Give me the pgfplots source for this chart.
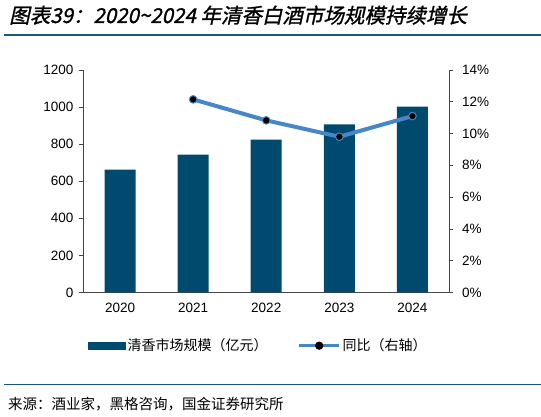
\documentclass[border=0pt]{standalone}
\usepackage{pgfplots}
\pgfplotsset{compat=1.18}
\usepackage{fontspec}
\setmainfont{Liberation Sans}
\newfontfamily\cjk{Noto Sans CJK SC}
\newfontfamily\cjktitle[FakeSlant=0.22,FakeBold=1.2]{Noto Sans CJK SC}
\definecolor{barblue}{RGB}{0,74,112}
\definecolor{lineblue}{RGB}{72,134,200}
\definecolor{rulecol}{RGB}{25,85,125}
\definecolor{axcol}{RGB}{70,70,70}

\pgfplotstableread{
x  size
0  662
1  744
2  825
3  907
4  1003
}\sizetab

\pgfplotstableread{
x  yoy
1  12.15
2  10.83
3  9.80
4  11.10
}\yoytab

\begin{document}
\begin{tikzpicture}[x=1pt,y=1pt]
\path[use as bounding box] (0,0) rectangle (541,417);

% title and rules
\node[anchor=base west, inner sep=0pt, font=\cjktitle\fontsize{20.5}{20.5}\selectfont] at (9,394)
  {图表39：2020\textasciitilde2024 年清香白酒市场规模持续增长};
\draw[rulecol, line width=1.4pt] (4,382) -- (541,382);
\draw[rulecol, line width=1.4pt] (4,32.7) -- (541,32.7);
\node[anchor=base west, inner sep=0pt, font=\cjk\fontsize{14.5}{14.5}\selectfont] at (8,7)
  {来源：酒业家，黑格咨询，国金证券研究所};

\pgfplotsset{
  every axis/.append style={
    at={(83.5pt,124.5pt)}, anchor=south west,
    scale only axis, width=365.5pt, height=222.5pt,
    xmin=-0.5, xmax=4.5,
    axis line style={axcol, line width=0.7pt},
    tick style={axcol, line width=0.7pt},
    major tick length=4.5pt,
    tick label style={font=\fontsize{13.5}{14}\selectfont},
    /pgf/number format/assume math mode=true,
    /pgf/number format/1000 sep={},
  },
}

\begin{axis}[
  axis y line*=left, axis x line*=bottom,
  ymin=0, ymax=1200, ytick={0,200,...,1200},
  tick align=outside,
  y tick label style={xshift=-2pt},
  xtick={0,...,4}, xticklabels={2020,2021,2022,2023,2024},
  major x tick style={draw=none},
  x tick label style={yshift=-3pt},
  extra x ticks={0.5,1.5,2.5,3.5},
  extra x tick labels={},
  extra x tick style={tick align=inside, major tick length=4pt},
  ybar, bar width=31pt,
]
\addplot[fill=barblue, draw=none] table[x=x, y=size] {\sizetab};
\end{axis}

\begin{axis}[
  axis y line*=right, axis x line=none,
  ymin=0, ymax=14, ytick={0,2,...,14},
  tick align=outside,
  yticklabel={\pgfmathprintnumber{\tick}\%},
  y tick label style={xshift=5pt},
  legend style={at={(0.478,-0.239)}, anchor=center, draw=none, fill=none,
    font=\cjk\fontsize{14}{14}\selectfont,
    /tikz/every even column/.append style={column sep=28pt}},
  legend columns=2,
]
\addlegendimage{fill=barblue, draw=none,
  legend image code/.code={\fill[barblue] (0pt,-4pt) rectangle (38pt,4pt);}}
\addlegendentry{清香市场规模（亿元）}
\addplot[lineblue, line width=4pt, mark=*,
  mark options={fill=black, draw=lineblue, line width=1pt},
  mark size=3.8pt,
  legend image code/.code={\draw[lineblue, line width=3pt] (0pt,0pt) -- (40pt,0pt);
    \fill[black] (20pt,0pt) circle (2pt);}]
  table[x=x, y=yoy] {\yoytab};
\addlegendentry{同比（右轴）}
\end{axis}
\end{tikzpicture}
\end{document}
